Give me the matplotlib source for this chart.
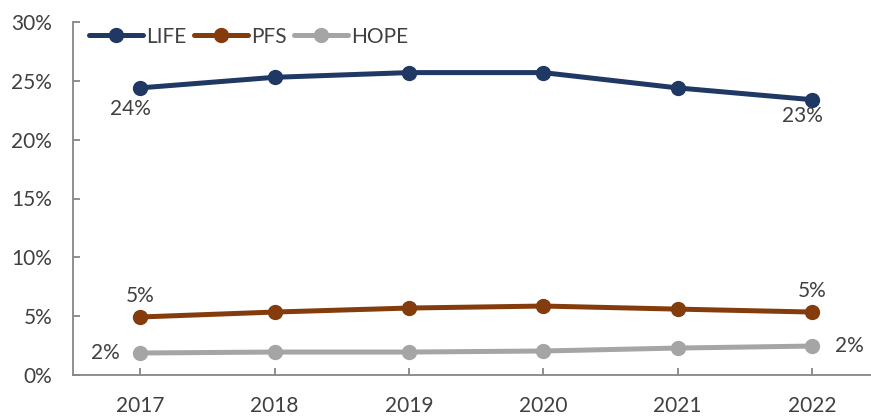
import numpy as np
import matplotlib
matplotlib.use("Agg")
import matplotlib.pyplot as plt
from matplotlib.ticker import FuncFormatter

years = ["2017", "2018", "2019", "2020", "2021", "2022"]
life = [24.4, 25.3, 25.7, 25.7, 24.4, 23.4]
pfs = [4.93, 5.35, 5.69, 5.86, 5.6, 5.35]
hope = [1.87, 1.95, 1.95, 2.04, 2.29, 2.46]

series = [("LIFE", life, "#203864"), ("PFS", pfs, "#843C0C"), ("HOPE", hope, "#A5A5A5")]

plt.rcParams["font.family"] = ["Lato", "DejaVu Sans"]
txt_color = "#404040"
axis_color = "#868686"
fs = 15

fig = plt.figure(figsize=(8.71, 4.18), dpi=100)
ax = fig.add_axes([73 / 871, 1 - 375 / 418, 806 / 871, 353 / 418])

x = np.arange(len(years))
for name, vals, col in series:
    ax.plot(x, vals, color=col, lw=3.6, marker="o", ms=10, label=name, solid_capstyle="round")

ax.set_xlim(-0.5, 5.5)
ax.set_ylim(0, 30)
ax.set_xticks(x)
ax.set_xticklabels(years)
ax.set_yticks(np.arange(0, 31, 5))
ax.yaxis.set_major_formatter(FuncFormatter(lambda v, p: f"{v:.0f}%"))

for s in ["top", "right"]:
    ax.spines[s].set_visible(False)
for s in ["left", "bottom"]:
    ax.spines[s].set_color(axis_color)
    ax.spines[s].set_linewidth(1.3)
ax.tick_params(axis="both", direction="in", length=5, width=1.3, color=axis_color,
               labelsize=fs, labelcolor=txt_color)
ax.tick_params(axis="y", pad=15)
ax.tick_params(axis="x", pad=15)

# data labels at the ends
lab = dict(fontsize=fs, color=txt_color)
ax.annotate(f"{life[0]:.0f}%", (x[0], life[0]), xytext=(-7, -15), textcoords="offset points", ha="center", va="center", **lab)
ax.annotate(f"{life[-1]:.0f}%", (x[-1], life[-1]), xytext=(-7, -12), textcoords="offset points", ha="center", va="center", **lab)
ax.annotate(f"{pfs[0]:.0f}%", (x[0], pfs[0]), xytext=(0, 15), textcoords="offset points", ha="center", va="center", **lab)
ax.annotate(f"{pfs[-1]:.0f}%", (x[-1], pfs[-1]), xytext=(0, 15), textcoords="offset points", ha="center", va="center", **lab)
ax.annotate(f"{hope[0]:.0f}%", (x[0], hope[0]), xytext=(-25, 0), textcoords="offset points", ha="center", va="center", **lab)
ax.annotate(f"{hope[-1]:.0f}%", (x[-1], hope[-1]), xytext=(27, 0), textcoords="offset points", ha="center", va="center", **lab)

leg = ax.legend(loc="upper left", bbox_to_anchor=(0.004, 1.022), ncol=3, frameon=False, fontsize=fs,
                handlelength=2.6, handletextpad=0.15, columnspacing=0.35, borderaxespad=0.2)
for t in leg.get_texts():
    t.set_color(txt_color)

fig.savefig("out.png", dpi=100)
